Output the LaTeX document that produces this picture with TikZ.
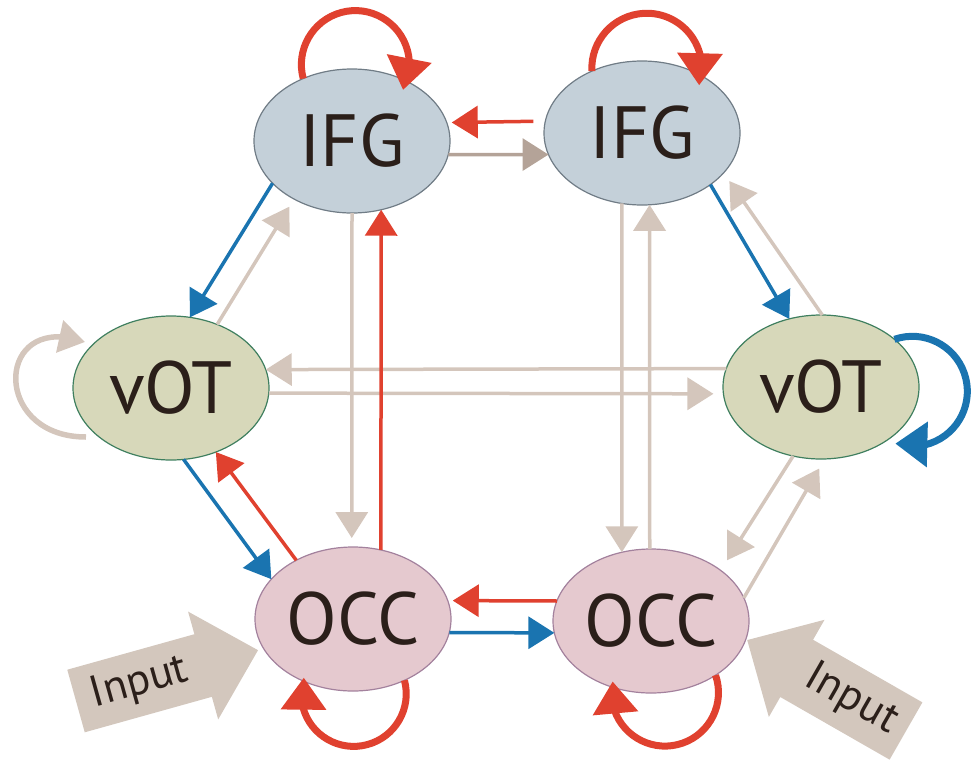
\documentclass[tikz,border=0pt]{standalone}
\usepackage{fontspec}
\setmainfont{PT Sans}
\usetikzlibrary{arrows.meta,bending,shapes.geometric}

\definecolor{redarc}{HTML}{E0412F}
\definecolor{bluearc}{HTML}{1A74B0}
\definecolor{taupe}{HTML}{D4C6BC}
\definecolor{taupedark}{HTML}{B4A398}
\definecolor{inputfill}{HTML}{D3C7BD}
\definecolor{ifgfill}{HTML}{C4D0D9}
\definecolor{ifgline}{HTML}{707C86}
\definecolor{votfill}{HTML}{D7D8BA}
\definecolor{votline}{HTML}{3F7F5F}
\definecolor{occfill}{HTML}{E5C9CF}
\definecolor{occline}{HTML}{A3819D}
\definecolor{labeltext}{HTML}{2B1F1A}

\begin{document}
\begin{tikzpicture}[x=1pt,y=1pt,
  region/.style={ellipse, minimum width=196pt, minimum height=144pt,
    inner sep=0pt, outer sep=0pt, line width=1.2pt, text=labeltext,
    font=\fontsize{74}{74}\selectfont},
  ifg/.style={region, draw=ifgline, fill=ifgfill},
  vot/.style={region, draw=votline, fill=votfill},
  occ/.style={region, draw=occline, fill=occfill},
  link/.style={line width=3.5pt, -{Triangle[length=26pt,width=32pt]}},
  tlink/.style={link, draw=taupe},
  blink/.style={link, draw=bluearc},
  rlink/.style={link, draw=redarc},
  selfloop/.style={line width=7pt, -{Triangle[length=32pt,width=44pt,flex]}},
  inputtext/.style={text=labeltext, font=\fontsize{44}{44}\selectfont, inner sep=0pt},
]
\useasboundingbox (0,0) rectangle (973,-763);

% input block arrows
\begin{scope}[shift={(76,-701)}, rotate=15.6]
  \fill[inputfill] (0,-32.5) -- (132,-32.5) -- (132,-56) -- (189,0)
    -- (132,56) -- (132,32.5) -- (0,32.5) -- cycle;
  \node[inputtext, rotate=15.6] (inputL) at (66,0) {Input};
\end{scope}
\begin{scope}[shift={(906,-731)}, rotate=150.2]
  \fill[inputfill] (0,-33) -- (126,-33) -- (126,-56) -- (183,0)
    -- (126,56) -- (126,33) -- (0,33) -- cycle;
  \node[inputtext, rotate=-29.8] (inputR) at (63,0) {Input};
\end{scope}

% regions
\node[ifg] (ifgL) at (352,-141) {IFG};
\node[ifg] (ifgR) at (642,-133) {IFG};
\node[vot] (votL) at (171,-388) {vOT};
\node[vot] (votR) at (821,-387) {vOT};
\node[occ] (occL) at (353,-619) {OCC};
\node[occ] (occR) at (651,-621) {OCC};

% taupe connections
\draw[link, draw=taupedark] (ifgL.-8) -- (ifgR.-167);
\draw[tlink, shorten >=9pt] (votL.54) -- (ifgL.-135);
\draw[tlink, shorten >=10pt] (votR.89) -- (ifgR.-26);
\draw[tlink] (votR.169) -- (votL.11);
\draw[tlink, shorten >=10pt] (votL.-3) -- (votR.-176.5);
\draw[tlink, shorten >=9pt] (ifgL.-90) -- (occL.91);
\draw[tlink] (ifgR.-106) -- (occR.113);
\draw[tlink] (occR.91) -- (ifgR.-84);
\draw[tlink, shorten >=12pt] (votR.-112) -- (occR.36);
\draw[tlink, shorten >=11pt] (occR.14) -- (votR.-87);

% blue connections
\draw[blink] (ifgL.-152) -- (votL.75);
\draw[blink] (ifgR.-37) -- (votR.115);
\draw[blink] (votL.-80) -- (occL.154);
\draw[blink] (occL.-8) -- (occR.-173);

% red connections
\draw[rlink, shorten <=12pt, shorten >=5pt] (ifgR.173.5) -- (ifgL.11.4);
\draw[rlink] (occL.68) -- (ifgL.-67);
\draw[rlink] (occL.134) -- (votL.-55);
\draw[rlink, shorten >=5pt] (occR.168) -- (occL.11);

% self connections
\coordinate (votLoopA) at (86,-437);
\coordinate (votLoopB) at (85,-342);
\draw[draw=taupe, line width=5.5pt, -{Triangle[length=26pt,width=32pt,flex]}]
  (votLoopA) .. controls (-10,-437) and (-5,-310) .. (votLoopB);
\draw[selfloop, draw=bluearc] (votR.33) arc[start angle=109, end angle=-108, radius=55pt];
\draw[selfloop, draw=redarc] (ifgL.128) arc[start angle=195, end angle=-28, radius=54pt];
\draw[selfloop, draw=redarc] (ifgR.129) arc[start angle=183, end angle=-18, radius=55pt];
\draw[selfloop, draw=redarc] (occL.-50.5) arc[start angle=15, end angle=-198, radius=52.5pt];
\draw[selfloop, draw=redarc] (occR.-40) arc[start angle=19, end angle=-192, radius=53.5pt];
\end{tikzpicture}
\end{document}
